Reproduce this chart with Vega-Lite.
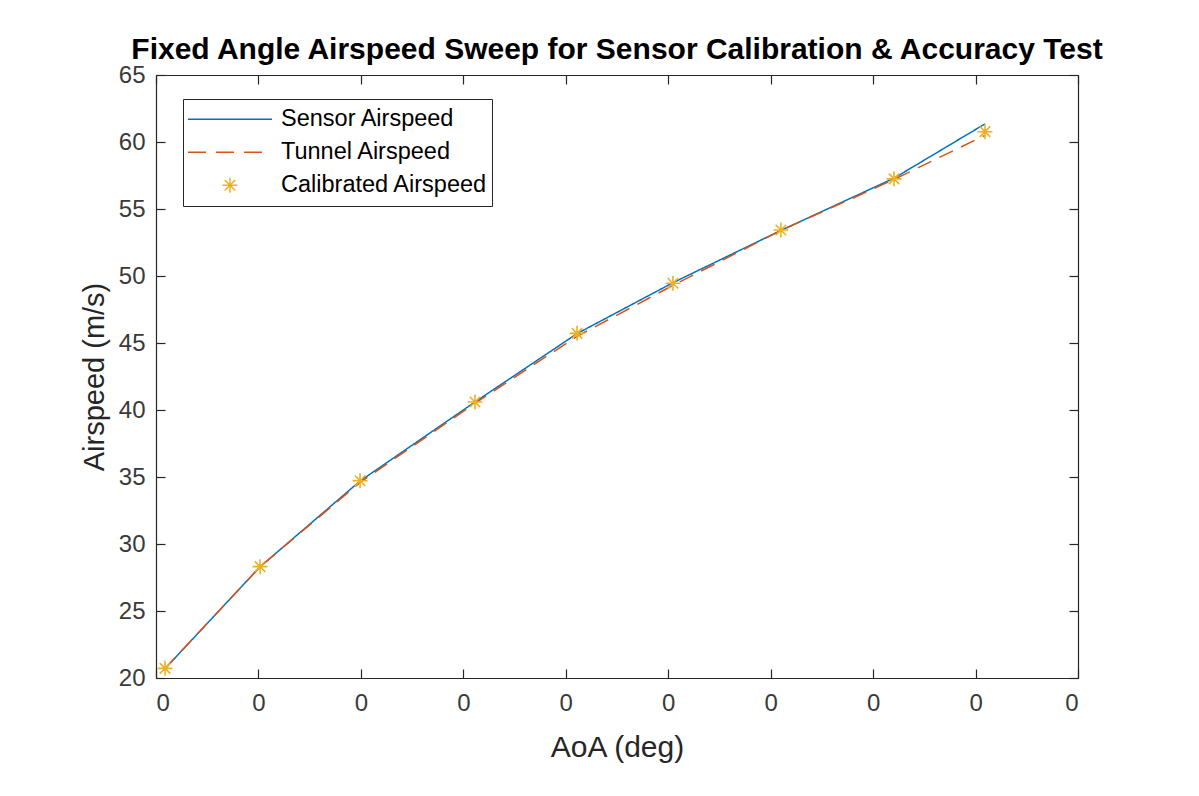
{
  "$schema": "https://vega.github.io/schema/vega-lite/v6.json",
  "width": 922,
  "height": 603,
  "autosize": {"type": "none"},
  "padding": {"left": 156, "top": 75, "right": 121, "bottom": 118},
  "background": "white",
  "config": {
    "font": "Liberation Sans",
    "view": {"stroke": null},
    "axis": {
      "grid": false,
      "domainColor": "#262626",
      "domainWidth": 1.2,
      "tickColor": "#262626",
      "tickWidth": 1.2,
      "tickSize": -9,
      "labelColor": "#3a3a3a",
      "labelFontSize": 24,
      "labelFont": "Liberation Sans",
      "titleFont": "Liberation Sans",
      "titleFontSize": 29,
      "titleFontWeight": "normal",
      "titleColor": "#262626"
    }
  },
  "title": {
    "text": "Fixed Angle Airspeed Sweep for Sensor Calibration & Accuracy Test",
    "fontSize": 30,
    "fontWeight": "bold",
    "color": "#000000",
    "anchor": "middle",
    "font": "Liberation Sans",
    "offset": -2
  },
  "data": {
    "values": [
      {"aoa": 0.0044, "series": "Sensor Airspeed", "airspeed": 20.7},
      {"aoa": 0.0508, "series": "Sensor Airspeed", "airspeed": 28.3},
      {"aoa": 0.0996, "series": "Sensor Airspeed", "airspeed": 34.7},
      {"aoa": 0.1557, "series": "Sensor Airspeed", "airspeed": 40.6},
      {"aoa": 0.2055, "series": "Sensor Airspeed", "airspeed": 45.7},
      {"aoa": 0.2523, "series": "Sensor Airspeed", "airspeed": 49.5},
      {"aoa": 0.3050, "series": "Sensor Airspeed", "airspeed": 53.4},
      {"aoa": 0.3602, "series": "Sensor Airspeed", "airspeed": 57.3},
      {"aoa": 0.4046, "series": "Sensor Airspeed", "airspeed": 61.35},
      {"aoa": 0.0044, "series": "Tunnel Airspeed", "airspeed": 20.7},
      {"aoa": 0.0508, "series": "Tunnel Airspeed", "airspeed": 28.3},
      {"aoa": 0.0996, "series": "Tunnel Airspeed", "airspeed": 34.6},
      {"aoa": 0.1557, "series": "Tunnel Airspeed", "airspeed": 40.5},
      {"aoa": 0.2055, "series": "Tunnel Airspeed", "airspeed": 45.5},
      {"aoa": 0.2523, "series": "Tunnel Airspeed", "airspeed": 49.3},
      {"aoa": 0.3050, "series": "Tunnel Airspeed", "airspeed": 53.4},
      {"aoa": 0.3602, "series": "Tunnel Airspeed", "airspeed": 57.2},
      {"aoa": 0.4046, "series": "Tunnel Airspeed", "airspeed": 60.5},
      {"aoa": 0.0044, "series": "Calibrated Airspeed", "airspeed": 20.72},
      {"aoa": 0.0508, "series": "Calibrated Airspeed", "airspeed": 28.31},
      {"aoa": 0.0996, "series": "Calibrated Airspeed", "airspeed": 34.72},
      {"aoa": 0.1557, "series": "Calibrated Airspeed", "airspeed": 40.6},
      {"aoa": 0.2055, "series": "Calibrated Airspeed", "airspeed": 45.72},
      {"aoa": 0.2523, "series": "Calibrated Airspeed", "airspeed": 49.46},
      {"aoa": 0.3050, "series": "Calibrated Airspeed", "airspeed": 53.43},
      {"aoa": 0.3602, "series": "Calibrated Airspeed", "airspeed": 57.25},
      {"aoa": 0.4046, "series": "Calibrated Airspeed", "airspeed": 60.77}
    ]
  },
  "layer": [
    {
      "transform": [{"filter": "datum.series !== 'Calibrated Airspeed'"}],
      "mark": {"type": "line", "strokeWidth": 1.5},
      "encoding": {
        "x": {
          "field": "aoa", "type": "quantitative",
          "scale": {"domain": [0, 0.45], "nice": false, "zero": false},
          "axis": {"orient": "bottom", "values": [0, 0.05, 0.1, 0.15, 0.2, 0.25, 0.3, 0.35, 0.4, 0.45], "format": ".0f", "title": "AoA (deg)", "labelPadding": 22, "titlePadding": 17, "titleFontSize": 30}
        },
        "y": {
          "field": "airspeed", "type": "quantitative",
          "scale": {"domain": [20, 65], "nice": false, "zero": false},
          "axis": {"orient": "left", "values": [20, 25, 30, 35, 40, 45, 50, 55, 60, 65], "title": "Airspeed (m/s)", "labelPadding": 20, "titlePadding": 9}
        },
        "color": {
          "field": "series", "type": "nominal",
          "scale": {"domain": ["Sensor Airspeed", "Tunnel Airspeed", "Calibrated Airspeed"], "range": ["#0072BD", "#D95319", "#EDB120"]},
          "legend": {
            "title": null,
            "orient": "none",
            "legendX": 27,
            "legendY": 24,
            "symbolType": "stroke",
            "symbolSize": 7056,
            "symbolStrokeWidth": 1.5,
            "clipHeight": 32.5,
            "rowPadding": 0,
            "padding": 4,
            "labelFontSize": 23.5,
            "labelColor": "#000000",
            "labelFont": "Liberation Sans",
            "labelOffset": 8,
            "labelLimit": 400,
            "strokeColor": "#262626",
            "fillColor": "white",
            "encode": {
              "symbols": {
                "update": {
                  "shape": {"signal": "datum.value === 'Calibrated Airspeed' ? 'M-1,0L1,0M0,-1L0,1M-0.7,-0.7L0.7,0.7M-0.7,0.7L0.7,-0.7' : 'stroke'"},
                  "size": {"signal": "datum.value === 'Calibrated Airspeed' ? 225 : 7056"},
                  "strokeDash": {"signal": "datum.value === 'Tunnel Airspeed' ? [18, 10] : [1, 0]"},
                  "stroke": {"signal": "scale('color', datum.value)"},
                  "fill": {"value": "transparent"},
                  "strokeWidth": {"value": 1.5},
                  "opacity": {"value": 1}
                }
              }
            }
          }
        },
        "strokeDash": {
          "field": "series", "type": "nominal",
          "scale": {"domain": ["Sensor Airspeed", "Tunnel Airspeed"], "range": [[1, 0], [15, 9]]},
          "legend": null
        }
      }
    },
    {
      "transform": [{"filter": "datum.series === 'Calibrated Airspeed'"}],
      "mark": {"type": "point", "shape": "M-1,0L1,0M0,-1L0,1M-0.7,-0.7L0.7,0.7M-0.7,0.7L0.7,-0.7", "filled": false, "size": 225, "strokeWidth": 1.6, "opacity": 1},
      "encoding": {
        "x": {
          "field": "aoa", "type": "quantitative",
          "scale": {"domain": [0, 0.45], "nice": false, "zero": false},
          "axis": {"orient": "top", "values": [0, 0.05, 0.1, 0.15, 0.2, 0.25, 0.3, 0.35, 0.4, 0.45], "labels": false, "title": null}
        },
        "y": {
          "field": "airspeed", "type": "quantitative",
          "scale": {"domain": [20, 65], "nice": false, "zero": false},
          "axis": {"orient": "right", "values": [20, 25, 30, 35, 40, 45, 50, 55, 60, 65], "labels": false, "title": null}
        },
        "color": {"field": "series", "type": "nominal"}
      }
    }
  ],
  "resolve": {"scale": {"x": "independent", "y": "independent"}}
}
